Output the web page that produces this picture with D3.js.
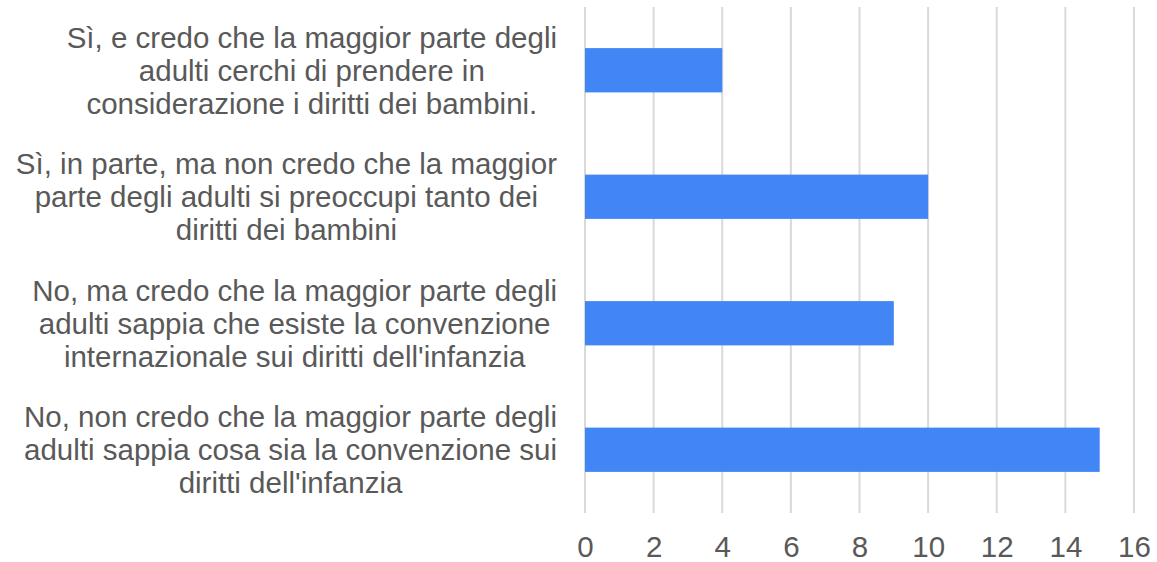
<!DOCTYPE html>
<html>
<head>
<meta charset="utf-8">
<script src="https://cdn.jsdelivr.net/npm/d3@7"></script>
<style>
  body { margin: 0; background: #fff; }
  text { font-family: Arial, "Liberation Sans", sans-serif; fill: #595959; }
</style>
</head>
<body>
<div id="chart"></div>
<script>
// dati
const categories = [
  ["Sì, e credo che la maggior parte degli", "adulti cerchi di prendere in", "considerazione i diritti dei bambini."],
  ["Sì, in parte, ma non credo che la maggior", "parte degli adulti si preoccupi tanto dei", "diritti dei bambini"],
  ["No, ma credo che la maggior parte degli", "adulti sappia che esiste la convenzione", "internazionale sui diritti dell'infanzia"],
  ["No, non credo che la maggior parte degli", "adulti sappia cosa sia la convenzione sui", "diritti dell'infanzia"]
];
const values = [4, 10, 9, 15];
const xTicks = [0, 2, 4, 6, 8, 10, 12, 14, 16];

const width = 1157, height = 562;
const margin = { top: 7, right: 23, bottom: 49, left: 585 };
const fontSize = 29.5, lineH = 33;

const svg = d3.select("#chart").append("svg")
  .attr("width", width)
  .attr("height", height);

const x = d3.scaleLinear()
  .domain([0, 16])
  .range([margin.left, width - margin.right]);

const y = d3.scaleBand()
  .domain(d3.range(categories.length))
  .range([margin.top, height - margin.bottom])
  .paddingInner(0.65)
  .paddingOuter(0.325);

// griglia verticale
svg.append("g")
  .selectAll("line")
  .data(xTicks)
  .join("line")
  .attr("x1", d => x(d)).attr("x2", d => x(d))
  .attr("y1", margin.top).attr("y2", height - margin.bottom)
  .attr("stroke", "#d9d9d9")
  .attr("stroke-width", 2);

// barre
svg.append("g")
  .selectAll("rect")
  .data(values)
  .join("rect")
  .attr("x", x(0))
  .attr("y", (d, i) => y(i))
  .attr("width", d => x(d) - x(0))
  .attr("height", y.bandwidth())
  .attr("fill", "#4285f4");

// asse x (solo etichette)
const xAxis = d3.axisBottom(x).tickValues(xTicks).tickSize(0).tickPadding(0);
const ax = svg.append("g")
  .attr("transform", `translate(0, ${height - 5})`)
  .call(xAxis);
ax.select(".domain").remove();
ax.selectAll("text")
  .attr("y", 0).attr("dy", null)
  .style("font-size", fontSize + "px")
  .style("font-family", "Arial, 'Liberation Sans', sans-serif")
  .attr("fill", "#595959");

// etichette delle categorie: centrate, blocco allineato a destra
const labelRight = margin.left - 28;
const lg = svg.append("g");
categories.forEach((lines, i) => {
  const cy = y(i) + y.bandwidth() / 2;
  const t = lg.append("text")
    .style("font-size", fontSize + "px")
    .attr("text-anchor", "middle");
  lines.forEach((ln, j) => {
    t.append("tspan")
      .attr("y", cy + (j - (lines.length - 1) / 2) * lineH + fontSize * 0.36)
      .text(ln);
  });
  // larghezza massima delle righe per allineare il blocco a destra
  let maxW = 0;
  t.selectAll("tspan").each(function() {
    maxW = Math.max(maxW, this.getComputedTextLength());
  });
  t.selectAll("tspan").attr("x", labelRight - maxW / 2);
});
</script>
</body>
</html>
